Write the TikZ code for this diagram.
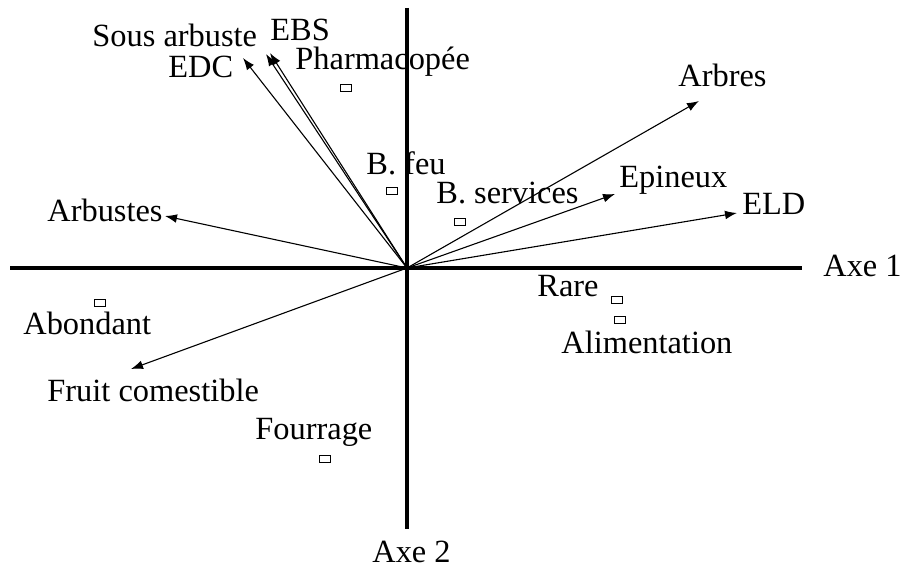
\documentclass[tikz,border=0pt]{standalone}
\usepackage{fontspec}
\setmainfont{Liberation Serif}
\usetikzlibrary{arrows.meta}
\begin{document}
\begin{tikzpicture}[x=0.5pt,y=-0.5pt,
  axis/.style={line width=1.8pt},
  vec/.style={line width=0.55pt,-{Latex[length=6pt,width=4.4pt]}},
  lbl/.style={anchor=base west,inner sep=0pt,font=\fontsize{16.2}{19}\selectfont},
  pt/.style={draw,line width=0.55pt,rectangle,minimum width=5.2pt,minimum height=3.6pt,inner sep=0pt}]
\useasboundingbox (0,0) rectangle (901,567);
% axes
\coordinate (O) at (407,268);
\coordinate (xl) at (10,268);
\coordinate (xr) at (802,268);
\coordinate (yt) at (407,8);
\coordinate (yb) at (407,529);
\draw[axis] (xl) -- (xr);
\draw[axis] (yt) -- (yb);
\node[lbl] (axe1) at (823,277) {Axe 1};
\node[lbl] (axe2) at (372,562) {Axe 2};
% vector tips
\coordinate (tArbustes) at (165,216);
\coordinate (tFruit) at (131,369);
\coordinate (tEDC) at (243,58);
\coordinate (tSous) at (266,54);
\coordinate (tEBS) at (270,53);
\coordinate (tArbres) at (699,101);
\coordinate (tEpineux) at (615,194);
\coordinate (tELD) at (737,213);
\foreach \t in {tArbustes,tFruit,tEDC,tSous,tEBS,tArbres,tEpineux,tELD}
  \draw[vec] (O) -- (\t);
% vector labels
\node[lbl] (Arbustes) at (47,221) {Arbustes};
\node[lbl] (Fruit) at (47,401) {Fruit comestible};
\node[lbl] (EDC) at (168,78) {EDC};
\node[lbl] (Sous) at (92,47) {Sous arbuste};
\node[lbl] (EBS) at (270,41) {EBS};
\node[lbl] (Arbres) at (678,87) {Arbres};
\node[lbl] (Epineux) at (619,188) {Epineux};
\node[lbl] (ELD) at (742,215) {ELD};
% supplementary points
\node[pt] (pPharma) at (346,88) {};
\node[lbl] (Pharma) at (295,70) {Pharmacopée};
\node[pt] (pFeu) at (392,191) {};
\node[lbl] (Feu) at (366,175) {B. feu};
\node[pt] (pServ) at (460,222) {};
\node[lbl] (Serv) at (436,204) {B. services};
\node[pt] (pAbond) at (100,303) {};
\node[lbl] (Abond) at (23,335) {Abondant};
\node[pt] (pRare) at (617,300) {};
\node[lbl] (Rare) at (537,297) {Rare};
\node[pt] (pAlim) at (620,320) {};
\node[lbl] (Alim) at (561,353) {Alimentation};
\node[pt] (pFour) at (325,459) {};
\node[lbl] (Four) at (255,439) {Fourrage};
\end{tikzpicture}
\end{document}
